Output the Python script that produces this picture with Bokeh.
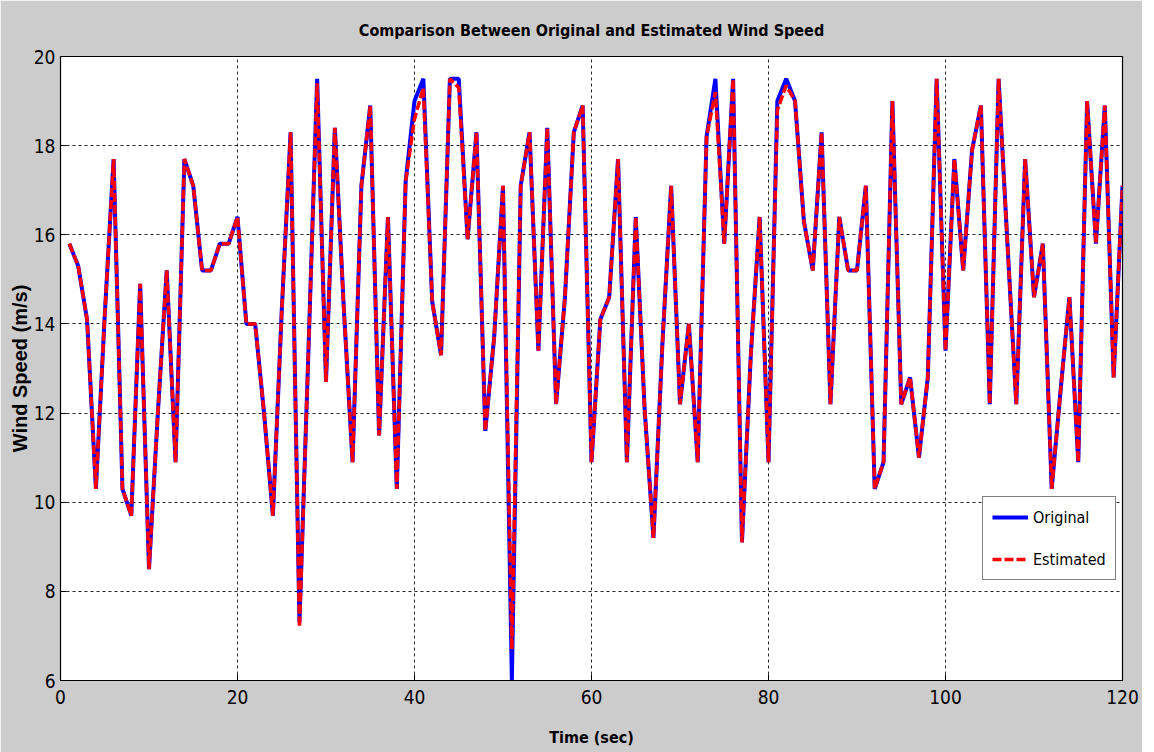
from bokeh.plotting import figure
from bokeh.models import FixedTicker, Range1d, Legend, LegendItem, Title
from bokeh.embed import file_html
from bokeh.resources import INLINE

time_sec = list(range(1, 121))
original = [15.8, 15.3, 14.1, 10.3, 14.2, 17.7, 10.3, 9.7, 14.9, 8.5,
            12.0, 15.2, 10.9, 17.7, 17.1, 15.2, 15.2, 15.8, 15.8, 16.4,
            14.0, 14.0, 12.0, 9.7, 14.3, 18.3, 7.3, 13.3, 19.5, 12.7,
            18.4, 14.4, 10.9, 17.1, 18.9, 11.5, 16.4, 10.3, 17.2, 19.0,
            19.5, 14.5, 13.3, 19.5, 19.5, 15.9, 18.3, 11.6, 13.7, 17.1,
            6.0, 17.1, 18.3, 13.4, 18.4, 12.2, 14.6, 18.3, 18.9, 10.9,
            14.1, 14.6, 17.7, 10.9, 16.4, 12.1, 9.2, 13.5, 17.1, 12.2,
            14.0, 10.9, 18.2, 19.5, 15.8, 19.5, 9.1, 13.3, 16.4, 10.9,
            19.0, 19.5, 19.0, 16.3, 15.2, 18.3, 12.2, 16.4, 15.2, 15.2,
            17.1, 10.3, 10.9, 19.0, 12.2, 12.8, 11.0, 12.8, 19.5, 13.4,
            17.7, 15.2, 17.9, 18.9, 12.2, 19.5, 15.8, 12.2, 17.7, 14.6,
            15.8, 10.3, 12.5, 14.6, 10.9, 19.0, 15.8, 18.9, 12.8, 17.1]
estimated = [15.8, 15.3, 14.1, 10.3, 14.2, 17.7, 10.3, 9.7, 14.9, 8.5,
             12.0, 15.2, 10.9, 17.7, 17.1, 15.2, 15.2, 15.8, 15.8, 16.4,
             14.0, 14.0, 12.0, 9.7, 14.3, 18.3, 7.2, 13.3, 19.4, 12.7,
             18.4, 14.4, 10.9, 17.1, 18.9, 11.5, 16.4, 10.3, 17.2, 18.6,
             19.3, 14.5, 13.3, 19.5, 19.3, 15.9, 18.3, 11.6, 13.7, 17.1,
             6.7, 17.1, 18.3, 13.4, 18.4, 12.2, 14.6, 18.3, 18.9, 10.9,
             14.1, 14.6, 17.7, 10.9, 16.4, 12.1, 9.2, 13.5, 17.1, 12.2,
             14.0, 10.9, 18.2, 19.2, 15.8, 19.5, 9.1, 13.3, 16.4, 10.9,
             18.8, 19.35, 19.0, 16.3, 15.2, 18.3, 12.2, 16.4, 15.2, 15.2,
             17.1, 10.3, 10.9, 19.0, 12.2, 12.8, 11.0, 12.8, 19.5, 13.4,
             17.7, 15.2, 17.9, 18.9, 12.2, 19.5, 15.8, 12.2, 17.7, 14.6,
             15.8, 10.3, 12.5, 14.6, 10.9, 19.0, 15.8, 18.9, 12.8, 17.1]
x_ticks = [0, 20, 40, 60, 80, 100, 120]
y_ticks = [6, 8, 10, 12, 14, 16, 18, 20]

NARROW = "DejaVu Sans Condensed"
BG = "#cccccc"

p = figure(width=1142, height=752, output_backend="svg", toolbar_location=None,
           x_range=Range1d(0, 120), y_range=Range1d(6, 20),
           min_border_left=60, min_border_right=20, min_border_top=56, min_border_bottom=72)
p.border_fill_color = BG
p.background_fill_color = "white"
p.outline_line_color = "black"
p.outline_line_width = 1.2

t = Title(text="Comparison Between Original and Estimated Wind Speed", align="center",
          vertical_align="top",
          text_font=NARROW, text_font_size="16px", text_font_style="bold",
          text_color="black", standoff=30)
p.add_layout(t, "above")

for ax in (p.xaxis[0], p.yaxis[0]):
    ax.major_tick_in = 6
    ax.major_tick_out = 0
    ax.minor_tick_in = 0
    ax.minor_tick_out = 0
    ax.axis_line_color = "black"
    ax.major_label_text_font = NARROW
    ax.major_label_text_font_size = "19px"
    ax.major_label_text_color = "black"
    ax.axis_label_text_color = "black"
    ax.axis_label_text_font_style = "bold"

p.xaxis.ticker = FixedTicker(ticks=x_ticks)
p.yaxis.ticker = FixedTicker(ticks=y_ticks)
p.xaxis.major_label_standoff = 9
p.yaxis.major_label_standoff = 5
p.xaxis.axis_label = "Time (sec)"
p.xaxis.axis_label_text_font = NARROW
p.xaxis.axis_label_text_font_size = "16px"
p.xaxis.axis_label_standoff = 21
p.yaxis.axis_label = "Wind Speed (m/s)"
p.yaxis.axis_label_text_font = "Liberation Sans"
p.yaxis.axis_label_text_font_size = "20px"
p.yaxis.axis_label_standoff = 0

p.xgrid.ticker = FixedTicker(ticks=x_ticks)
p.ygrid.ticker = FixedTicker(ticks=y_ticks)
for g in (p.xgrid[0], p.ygrid[0]):
    g.grid_line_color = "black"
    g.grid_line_dash = "3 3"
    g.grid_line_width = 1
    g.grid_line_alpha = 0.85

r1 = p.line(time_sec, original, line_color="#0000ff", line_width=4)
r2 = p.line(time_sec, estimated, line_color="#ff0000", line_width=3.5, line_dash="9 3")

legend = Legend(items=[LegendItem(label="Original", renderers=[r1]),
                       LegendItem(label="Estimated", renderers=[r2])],
                location=(922, 100), label_text_font=NARROW, label_text_font_size="16px",
                label_text_color="black", glyph_width=36, glyph_height=22,
                label_standoff=5, padding=9, spacing=20, margin=0,
                border_line_color="black", border_line_width=1.2,
                background_fill_color="white", background_fill_alpha=1)
p.add_layout(legend, "center")

open("out.html", "w").write(file_html(p, INLINE))
